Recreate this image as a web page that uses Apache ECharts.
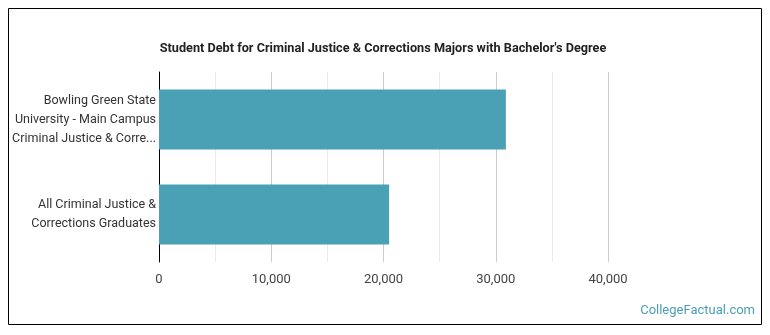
<!DOCTYPE html>
<html><head><meta charset="utf-8">
<script src="https://cdn.jsdelivr.net/npm/echarts@6/dist/echarts.min.js"></script>
<style>html,body{margin:0;padding:0;background:#fff}#c{width:770px;height:335px}</style>
</head><body><div id="c"></div>
<script>
const categories = ["Bowling Green State\nUniversity - Main Campus\nCriminal Justice & Corre...", "All Criminal Justice &\nCorrections Graduates"];
const debtValues = [30900, 20500];
const tickValues = [0, 10000, 20000, 30000, 40000];
const titleText = "Student Debt for Criminal Justice & Corrections Majors with Bachelor's Degree";

const chart = echarts.init(document.getElementById('c'));
chart.setOption({
  animation: false,
  title: {
    text: titleText, left: 378, top: 37, textAlign: 'center',
    textStyle: {fontFamily: 'Roboto', fontSize: 12.7, fontWeight: 'bold', color: '#222'}
  },
  graphic: [
    {type: 'rect', shape: {x: 8.5, y: 8.5, width: 753, height: 316}, style: {fill: 'none', stroke: '#000', lineWidth: 1}},
    {type: 'text', right: 15, top: 304, style: {text: 'CollegeFactual.com', fontFamily: 'Roboto', fontSize: 13, fill: '#4a9fb5'}}
  ],
  grid: {left: 159, right: 162, top: 72, bottom: 73, containLabel: false},
  xAxis: {
    type: 'value', min: 0, max: 40000, interval: 10000,
    axisLine: {show: false}, axisTick: {show: false},
    axisLabel: {fontFamily: 'Roboto', fontSize: 13, color: '#444', margin: 11,
      formatter: v => tickValues.includes(v) ? v.toLocaleString('en-US') : ''},
    splitLine: {show: true, lineStyle: {color: '#ccc', width: 1}},
    minorTick: {show: false, splitNumber: 2},
    minorSplitLine: {show: true, lineStyle: {color: '#eaeaea', width: 1}}
  },
  yAxis: {
    type: 'category', data: categories, inverse: true,
    axisLine: {show: true, lineStyle: {color: '#000', width: 1}},
    axisTick: {show: false},
    axisLabel: {fontFamily: 'Roboto', fontSize: 12.5, color: '#333', margin: 3, lineHeight: 19, align: 'right'}
  },
  series: [{
    type: 'bar', data: debtValues, barWidth: 60,
    itemStyle: {color: '#4aa0b5'}
  }]
});
</script></body></html>
